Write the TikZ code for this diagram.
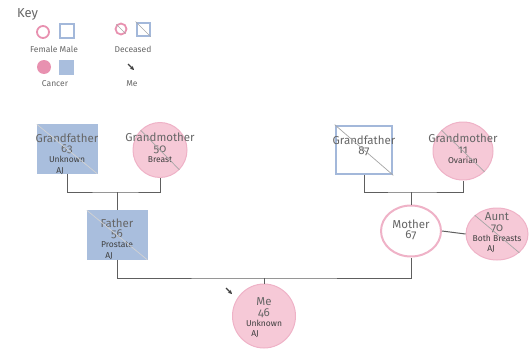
\documentclass[tikz,border=0pt]{standalone}
\usepackage{fontspec}
\setmainfont{Fira Sans}[Numbers=OldStyle]
\usetikzlibrary{arrows.meta,shapes.geometric}
\definecolor{bluefill}{HTML}{A9BEDD}
\definecolor{blueline}{HTML}{A3B8DA}
\definecolor{pinkfill}{HTML}{F6C9D7}
\definecolor{pinkline}{HTML}{EFB2C7}
\definecolor{keypink}{HTML}{E891B0}
\definecolor{linegray}{HTML}{5E5E5E}
\definecolor{txtgray}{HTML}{666666}
\definecolor{txtdark}{HTML}{3F3F3F}
\newcommand\detail{\fontsize{8.5}{9}\selectfont\color{txtdark}}

\begin{document}
\begin{tikzpicture}[x=1pt,y=-1pt,>=Stealth,
  male/.style={rectangle,draw=bluefill,fill=bluefill,minimum width=60pt,minimum height=49pt},
  female/.style={ellipse,draw=pinkline,fill=pinkfill,line width=1pt},
  lbl/.style={align=center,inner sep=0pt,text=txtgray,font=\fontsize{11.5}{10.3}\selectfont},
  keytxt/.style={inner sep=0pt,text=txtgray,font=\fontsize{8.5}{9}\selectfont},
  dec/.style={gray!70,line width=0.7pt},
  link/.style={linegray,line width=1pt},
  pointer/.style={->,txtdark,line width=1.1pt,>={Stealth[length=4pt,width=4pt]}}]
\useasboundingbox (0,0) rectangle (529,348);

% key
\node[text=txtgray,font=\fontsize{13}{13}\selectfont,anchor=west,inner sep=0pt] (key) at (17,14) {Key};
\node[ellipse,draw=keypink,line width=1.8pt,minimum size=12pt] (kF) at (43,32) {};
\node[rectangle,draw=blueline,line width=2pt,minimum size=14pt] (kM) at (67,31) {};
\node[keytxt] (kFMt) at (54,49) {Female Male};
\node[ellipse,draw=keypink,line width=1.8pt,minimum size=11pt] (kDF) at (121,29) {};
\node[rectangle,draw=blueline,line width=2pt,minimum size=13pt] (kDM) at (143,29) {};
\node[keytxt] (kDt) at (133,49) {Deceased};
\node[ellipse,fill=keypink,minimum size=14pt] (kCF) at (44,67) {};
\node[rectangle,fill=bluefill,minimum size=15pt] (kCM) at (66,67) {};
\node[keytxt] (kCt) at (55,84) {Cancer};
\coordinate (kMe) at (128,64);
\node[keytxt] (kMet) at (132,84) {Me};
\draw[pointer] (kMe) -- ++(6,6);

% family
\node[male] (gfL) at (67,149) {};
\node[female,minimum width=54pt,minimum height=55pt] (gmL) at (160,150) {};
\node[male,draw=blueline,fill=white,line width=2.6pt,minimum width=56pt,minimum height=48pt] (gfR) at (364,150) {};
\node[female,minimum width=60pt,minimum height=58pt] (gmR) at (463,151) {};
\node[male] (fa) at (117,235) {};
\node[female,fill=white,line width=2pt,minimum width=60pt,minimum height=51pt] (mo) at (411,231) {};
\node[female,minimum width=62pt,minimum height=52pt] (au) at (497,234) {};
\node[female,minimum width=63pt,minimum height=64pt] (me) at (264,316) {};

\coordinate (jL) at (117,192);
\coordinate (jR) at (411,192);
\coordinate (jB) at (264,278);
\draw[link] (gfL.south) |- (jL) -| (gmL.south);
\draw[link] (jL) -- (fa.north);
\draw[link] (gfR.south) |- (jR) -| (gmR.south);
\draw[link] (jR) -- (mo.north);
\draw[link] (fa.south) |- (jB) -| (mo.south);
\draw[link] (jB) -- (me.north);
\draw[link] (mo.east) -- (au.west);

\node[lbl] (gfLt) at (67,154) {Grandfather\\63\\{\detail Unknown}\\{\detail AJ}\hspace*{14pt}};
\node[lbl] (gmLt) at (160,148) {Grandmother\\50\\{\detail Breast}};
\node[lbl] (gfRt) at (364,146) {Grandfather\\87};
\node[lbl] (gmRt) at (463,149) {Grandmother\\11\\{\detail Ovarian}};
\node[lbl] (fat) at (117,239) {Father\\56\\{\detail Prostate}\\{\detail AJ}\hspace*{16pt}};
\node[lbl] (mot) at (411,230) {Mother\\67};
\node[lbl] (aut) at (497,233) {Aunt\\70\\{\detail Both Breasts}\\{\detail AJ}\hspace*{12pt}};
\node[lbl] (met) at (264,318) {Me\\46\\{\detail Unknown}\\{\detail AJ}\hspace*{18pt}};

\foreach \n in {gmL,gmR,au,gfR,kDF,kDM}
  \draw[dec] (\n.north west) -- (\n.south east);
\foreach \n in {gfL,fa}
  \draw[dec,gray!35] (\n.north west) -- (\n.south east);

\coordinate (mePtr) at (226,288);
\draw[pointer] (mePtr) -- ++(6,6);
\end{tikzpicture}
\end{document}
